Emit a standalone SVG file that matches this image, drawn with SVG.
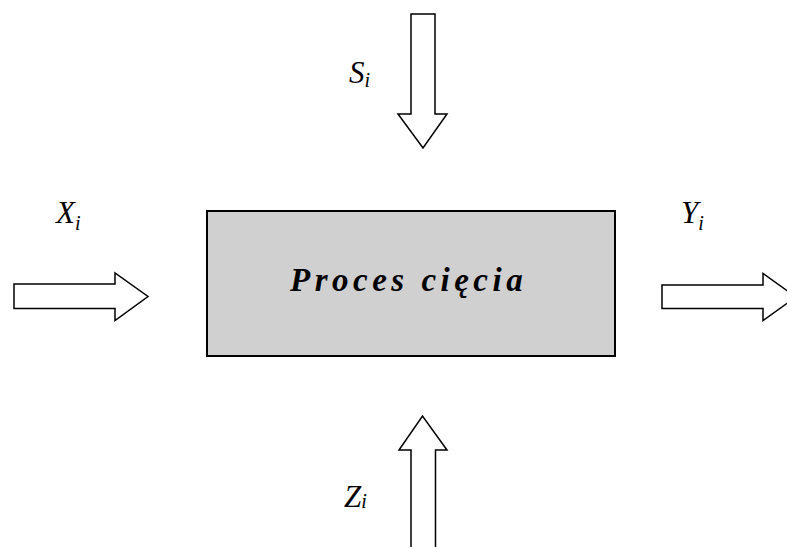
<svg xmlns="http://www.w3.org/2000/svg" width="787" height="547" viewBox="0 0 787 547">
<style>
.arr{fill:#fff;stroke:#000;stroke-width:1.5;stroke-linejoin:miter}
.lbl{font-family:'Liberation Serif',serif;font-style:italic;font-size:31px;fill:#000}
.sub{font-size:20px}
.box{fill:#d0d0d0;stroke:#000;stroke-width:2}
.title{font-family:'Liberation Serif',serif;font-style:italic;font-weight:bold;font-size:33px;letter-spacing:4.5px;fill:#000}
</style>
<rect width="787" height="547" fill="#fff"/>
<g id="connectors">
<g id="arrow-s"><path class="arr" d="M411,14 H435 V114 H447 L423,148 L398,114 H411 Z"/></g>
<g id="arrow-x"><path class="arr" d="M14,284 H115 V273 L148,296.5 L115,320.5 V308.5 H14 Z"/></g>
<g id="arrow-y"><path class="arr" d="M662,285 H763 V273.5 L796,297 L763,320.5 V308.5 H662 Z"/></g>
<g id="arrow-z"><path class="arr" d="M411,560 V450 H399 L422.5,416 L447,450 H435.5 V560 Z"/></g>
</g>
<g id="process">
<rect class="box" x="207" y="211" width="408" height="145"/>
<text class="title" x="290" y="291">Proces cięcia</text>
</g>
<g id="label-s"><text class="lbl" x="349" y="83">S<tspan class="sub" dy="4">i</tspan></text></g>
<g id="label-x"><text class="lbl" x="56" y="223">X<tspan class="sub" dy="7">i</tspan></text></g>
<g id="label-y"><text class="lbl" x="681" y="223">Y<tspan class="sub" dy="7">i</tspan></text></g>
<g id="label-z"><text class="lbl" x="344" y="507">Z<tspan class="sub" dy="1">i</tspan></text></g>
</svg>
